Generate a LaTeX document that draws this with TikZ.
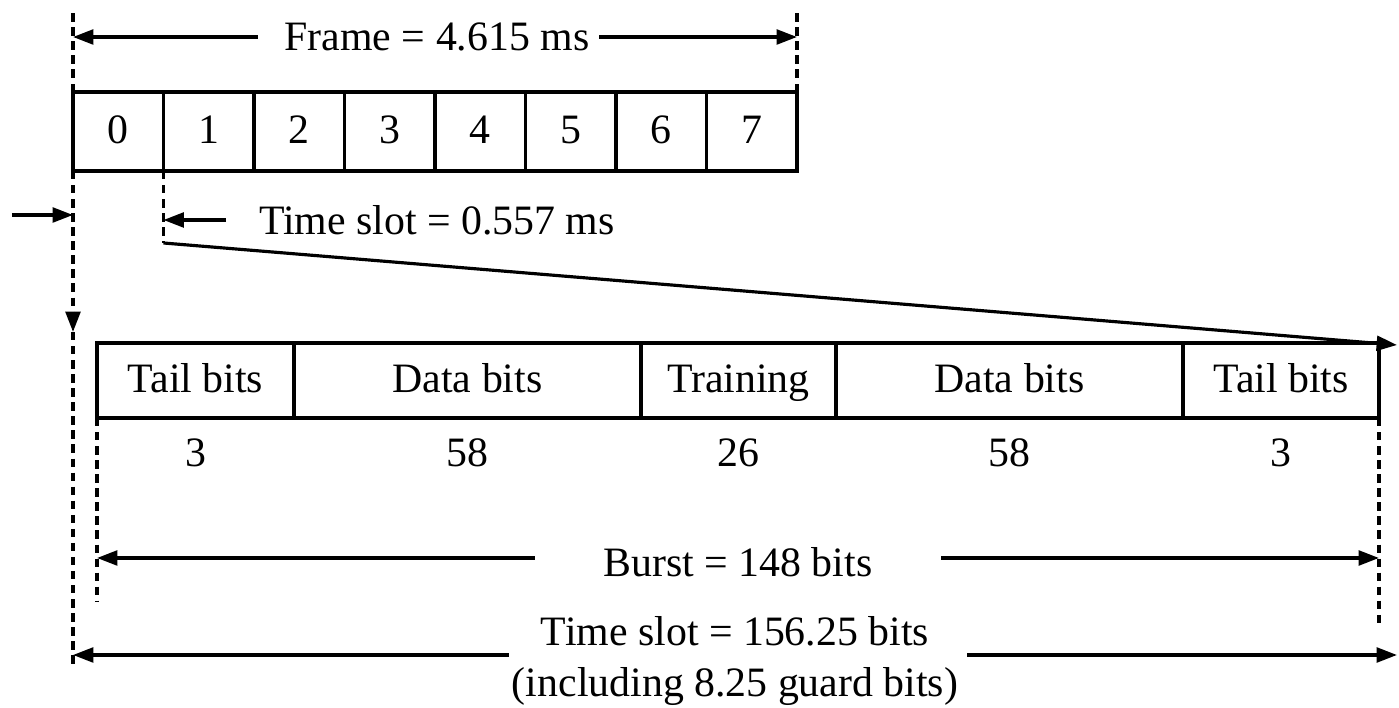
\documentclass[tikz,border=0pt]{standalone}
\usepackage{fontspec}
\setmainfont{Liberation Serif}
\usetikzlibrary{arrows.meta,positioning,calc}

\newcommand\lblfont{\fontsize{11.9}{14.7}\selectfont}

\tikzset{
  fcell/.style={draw, line width=0.95pt, inner sep=0pt, outer sep=0pt,
                text height=0.66em, text depth=0em,
                minimum width=0.905cm, minimum height=0.79cm, font=\lblfont},
  bcell/.style={draw, line width=0.95pt, inner sep=0pt, outer sep=0pt,
                text height=0.66em, text depth=0em,
                minimum height=0.75cm, font=\lblfont},
  lbl/.style={inner sep=0pt, outer sep=0pt, font=\lblfont},
  num/.style={lbl, text height=0.66em, text depth=0em},
  guide/.style={line width=0.9pt, dash pattern=on 2.4pt off 1.6pt},
  dimarr/.style={line width=0.9pt, -{Triangle[length=5.8pt,width=4.2pt]}},
}

\begin{document}
\begin{tikzpicture}
\useasboundingbox (0,0) rectangle (13.99,-7.08);

% ---- TDMA frame: eight time slots ----
\node[fcell] (c0) at (1.1825,-1.315) {0};
\foreach \i [count=\j from 0] in {1,...,7}
  \node[fcell, right=0pt of c\j] (c\i) {\i};

% frame length markers
\coordinate (topY) at (0,-0.08);
\draw[guide] (c0.north west) -- (c0.north west |- topY);
\draw[guide] (c7.north east) -- (c7.north east |- topY);
\node[lbl] (ft) at (4.37,-0.37) {Frame = 4.615 ms};
\draw[dimarr] ([xshift=-2.7mm]ft.west) -- (ft.west -| c0.west);
\draw[dimarr] ([xshift=1.0mm]ft.east) -- (ft.east -| c7.east);

% ---- normal burst ----
\node[bcell, minimum width=1.97cm] (b1) at (1.955,-3.805) {Tail bits};
\node[bcell, minimum width=3.47cm, right=0pt of b1] (b2) {Data bits};
\node[bcell, minimum width=1.95cm, right=0pt of b2] (b3) {Training};
\node[bcell, minimum width=3.47cm, right=0pt of b3] (b4) {Data bits};
\node[bcell, minimum width=1.96cm, right=0pt of b4] (b5) {Tail bits};

% bit counts
\node[num] (n1) at ($(b1.south)+(0,-0.37)$) {3};
\node[num] (n2) at ($(b2.south)+(0,-0.37)$) {58};
\node[num] (n3) at ($(b3.south)+(0,-0.37)$) {26};
\node[num] (n4) at ($(b4.south)+(0,-0.37)$) {58};
\node[num] (n5) at ($(b5.south)+(0,-0.37)$) {3};

% ---- time slot 0.557 ms ----
\coordinate (inL) at (0.12,-2.15);
\coordinate (bot) at (0,-6.65);
\coordinate (tipY) at (0,-3.32);
\draw[guide, -{Triangle[length=5.8pt,width=4.2pt]}] (c0.south west) -- (c0.south west |- tipY);
\draw[guide] (c0.south west |- tipY) -- (c0.south west |- bot);
\draw[dimarr] (inL) -- (inL -| c0.west);

\coordinate (dgY) at (0,-2.43);
\coordinate (dg) at (c1.south west |- dgY);
\draw[guide] (c1.south west) -- (dg);
\node[lbl] (ts1) at (4.37,-2.20) {Time slot = 0.557 ms};
\draw[dimarr] ([xshift=-3.3mm]ts1.west) -- (ts1.west -| c1.west);

% expansion of slot 1 into the burst
\coordinate (dgEnd) at (13.97,-3.45);
\draw[dimarr] (dg) -- (dgEnd);

% ---- burst length ----
\coordinate (bL) at (0,-6.02);
\coordinate (bR) at (0,-6.25);
\draw[guide] (b1.south west) -- (b1.south west |- bL);
\draw[guide] (b5.south east) -- (b5.south east |- bR);
\node[lbl] (bt) at (7.38,-5.62) {Burst = 148 bits};
\coordinate (btY) at (0,-5.58);
\draw[dimarr] ($(bt.west |- btY)+(-0.69,0)$) -- (b1.west |- btY);
\draw[dimarr] ($(bt.east |- btY)+(0.69,0)$) -- (b5.east |- btY);

% ---- time slot in bits ----
\node[lbl, align=center] (ts2) at (7.35,-6.61)
  {Time slot = 156.25 bits\\(including 8.25 guard bits)};
\coordinate (tsY) at (0,-6.55);
\coordinate (tsR) at (13.97,-6.55);
\draw[dimarr] ($(ts2.west |- tsY)+(-0.03,0)$) -- (c0.west |- tsY);
\draw[dimarr] ($(ts2.east |- tsY)+(0.09,0)$) -- (tsR);
\end{tikzpicture}
\end{document}
